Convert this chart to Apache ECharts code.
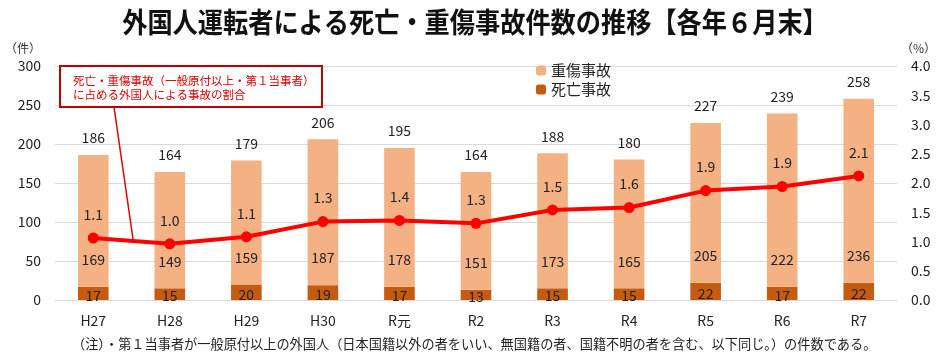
<!DOCTYPE html>
<html><head><meta charset="utf-8">
<script src="https://cdn.jsdelivr.net/npm/echarts@6/dist/echarts.min.js"></script>
<style>html,body{margin:0;padding:0;background:#fff}#c{width:951px;height:357px}</style>
</head><body><div id="c"></div>
<script>
const categories = ['H27','H28','H29','H30','R元','R2','R3','R4','R5','R6','R7'];
const deaths = [17,15,20,19,17,13,15,15,22,17,22];
const serious = [169,149,159,187,178,151,173,165,205,222,236];
const rate = [1.06,0.96,1.08,1.34,1.36,1.31,1.54,1.58,1.87,1.94,2.12];
const leftTicks = [0,300,50];
const rightTicks = [0,4,0.5];

const totals = deaths.map((d,i)=>d+serious[i]);
const FF = '"Noto Sans CJK JP","Noto Sans",sans-serif';
const chart = echarts.init(document.getElementById('c'));
chart.setOption({
  animation:false,
  textStyle:{fontFamily:FF},
  legend:{data:['重傷事故','死亡事故'],orient:'vertical',left:531,top:58,itemWidth:10,itemHeight:10,itemGap:4,
    textStyle:{fontSize:15,color:'#222',fontFamily:FF}},
  grid:{left:55,right:54,top:66,bottom:57},
  xAxis:{type:'category',data:categories,axisTick:{show:false},
    axisLine:{lineStyle:{color:'#d9d9d9'}},
    axisLabel:{fontSize:14,color:'#222',margin:14,fontFamily:FF}},
  yAxis:[
    {type:'value',min:leftTicks[0],max:leftTicks[1],interval:leftTicks[2],name:'（件）',
     nameLocation:'end',nameGap:12,nameTextStyle:{fontSize:12,color:'#333',align:'right',padding:[0,14,0,0]},
     axisLabel:{fontSize:14,color:'#222',margin:14},splitLine:{lineStyle:{color:'#d9d9d9'}},
     axisLine:{show:false},axisTick:{show:false}},
    {type:'value',min:rightTicks[0],max:rightTicks[1],interval:rightTicks[2],name:'（%）',
     nameLocation:'end',nameGap:12,nameTextStyle:{fontSize:12,color:'#333',align:'left',padding:[0,0,0,4]},
     axisLabel:{fontSize:14,color:'#222',margin:14,formatter:v=>v.toFixed(1)},splitLine:{show:false},
     axisLine:{show:false},axisTick:{show:false}}
  ],
  series:[
    {name:'死亡事故',type:'bar',stack:'a',data:deaths,barWidth:'40%',itemStyle:{color:'#C55A11'},
     label:{show:true,position:'inside',fontSize:14,color:'#222',offset:[0,2]}},
    {name:'重傷事故',type:'bar',stack:'a',data:serious,itemStyle:{color:'#F4B183'},
     label:{show:true,position:'insideBottom',distance:20,fontSize:14,color:'#222'}},
    {name:'合計',type:'line',data:totals,symbol:'circle',symbolSize:2,showSymbol:true,
     itemStyle:{color:'rgba(255,255,255,0)'},lineStyle:{color:'rgba(255,255,255,0)',width:0},silent:true,
     label:{show:true,position:'top',distance:9,fontSize:14,color:'#222'}},
    {name:'割合',type:'line',yAxisIndex:1,data:rate,symbol:'circle',symbolSize:11,z:5,
     lineStyle:{color:'#FF0000',width:4},itemStyle:{color:'#FF0000'},
     label:{show:true,position:'top',distance:11,fontSize:14,color:'#222',formatter:p=>p.value.toFixed(1)}}
  ],
  graphic:[
    {type:'text',x:475,y:22,scaleX:0.9,z:12,style:{text:'外国人運転者による死亡・重傷事故件数の推移【各年６月末】',
      fill:'#111',fontSize:28,fontWeight:'bold',fontFamily:FF,align:'center',verticalAlign:'middle'}},
    {type:'line',shape:{x1:114,y1:107,x2:133,y2:239},style:{stroke:'#E00000',lineWidth:1.5},z:10},
    {type:'rect',shape:{x:60,y:66,width:262,height:41},style:{fill:'#fff',stroke:'#C00000',lineWidth:2},z:10},
    {type:'text',left:73,top:74,z:11,style:{text:'死亡・重傷事故（一般原付以上・第１当事者）\nに占める外国人による事故の割合',
      fill:'#E00000',fontSize:11.5,lineHeight:14,fontFamily:FF}},
    {type:'text',left:72,top:337,style:{text:'（注）・第１当事者が一般原付以上の外国人（日本国籍以外の者をいい、無国籍の者、国籍不明の者を含む、以下同じ。）の件数である。',
      fill:'#222',fontSize:13.2,fontFamily:FF}}
  ]
});
</script></body></html>
